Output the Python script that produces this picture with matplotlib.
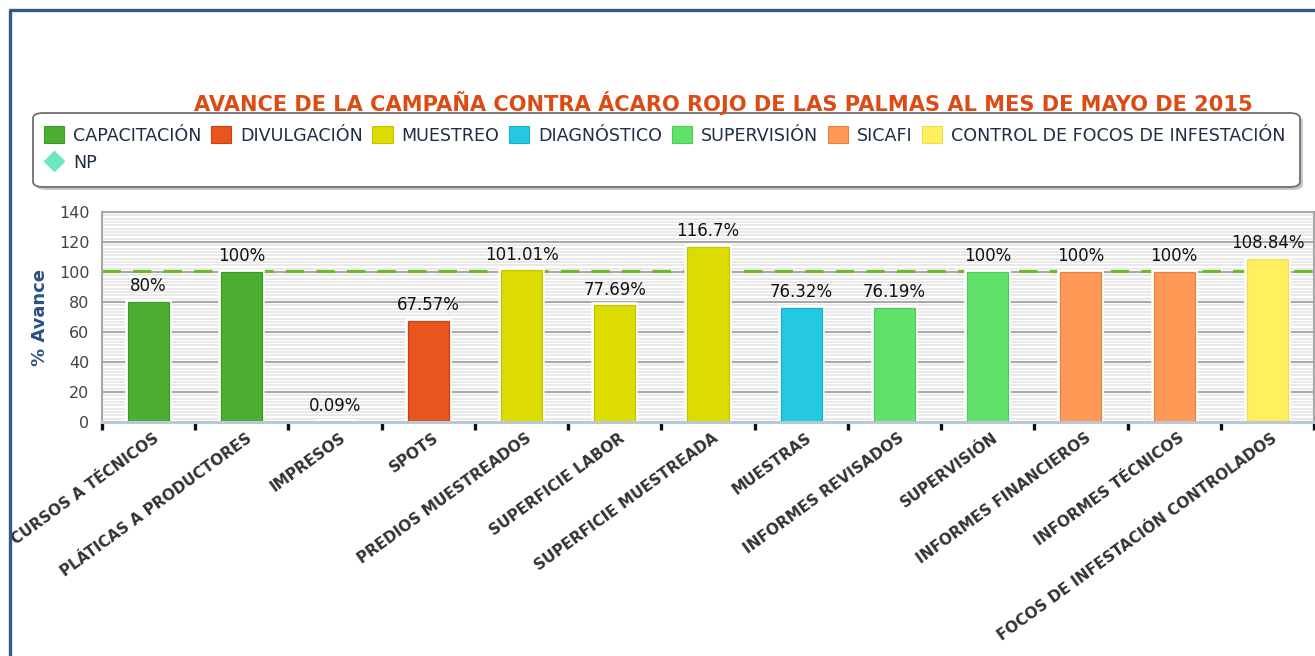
import matplotlib
matplotlib.use("Agg")
import matplotlib.pyplot as plt
import numpy as np
from matplotlib.patches import Patch, FancyBboxPatch
from matplotlib.lines import Line2D
import matplotlib.transforms as mtransforms

# ---------------- data ----------------
categories = ["CURSOS A TÉCNICOS", "PLÁTICAS A PRODUCTORES", "IMPRESOS", "SPOTS",
              "PREDIOS MUESTREADOS", "SUPERFICIE LABOR", "SUPERFICIE MUESTREADA",
              "MUESTRAS", "INFORMES REVISADOS", "SUPERVISIÓN", "INFORMES FINANCIEROS",
              "INFORMES TÉCNICOS", "FOCOS DE INFESTACIÓN CONTROLADOS"]
values = [80, 100, 0.09, 67.57, 101.01, 77.69, 116.7, 76.32, 76.19, 100, 100, 100, 108.84]
series_names = ["CAPACITACIÓN", "DIVULGACIÓN", "MUESTREO", "DIAGNÓSTICO",
                "SUPERVISIÓN", "SICAFI", "CONTROL DE FOCOS DE INFESTACIÓN"]
series_of_category = [0, 0, 1, 1, 2, 2, 2, 3, 4, 4, 5, 5, 6]
np_name = "NP"
np_value = 100
yticks = [0, 20, 40, 60, 80, 100, 120, 140]
title = "AVANCE DE LA CAMPAÑA CONTRA ÁCARO ROJO DE LAS PALMAS AL MES DE MAYO DE 2015"
ylabel = "% Avance"

# ---------------- styles ----------------
series_colors = ["#4daf32", "#e8551e", "#dcdc00", "#24c8e2", "#62e26c", "#ff9955", "#fff060"]
series_edges = ["#3b9a24", "#cc4210", "#c4c400", "#16b0cc", "#4ccc58", "#ec8040", "#eedd50"]
np_color = "#6ae8c2"
np_line_color = "#6cbb26"

W, H = 1315, 656
fig = plt.figure(figsize=(W / 100, H / 100), dpi=100)
fig.patch.set_facecolor("white")

def fx(px):
    return px / W

def fy(py):
    return 1 - py / H

# outer frame (blue lines top and left)
fig.add_artist(Line2D([fx(9), fx(W)], [fy(9.5), fy(9.5)], color="#2f5a8c", lw=2.4,
                      transform=fig.transFigure, solid_capstyle="butt"))
fig.add_artist(Line2D([fx(9.5), fx(9.5)], [fy(9), fy(H)], color="#2f5a8c", lw=2.4,
                      transform=fig.transFigure, solid_capstyle="butt"))

# axes
left, right, top, bottom = 102, 1314, 212, 422
ax = fig.add_axes([fx(left), fy(bottom), fx(right - left), (bottom - top) / H])
n = len(categories)
x = np.arange(n)
ax.set_xlim(-0.5, n - 0.5)
ax.set_ylim(0, 140)

# striped background
stripe_y = [y0 + k * 20 / 9 for y0 in range(0, 140, 20) for k in range(1, 9)]
for yy in stripe_y:
    ax.axhline(yy, color="#e7e7e7", lw=1.3, zorder=0.5)
for yy in yticks[1:]:
    ax.axhline(yy, color="#a8a8a8", lw=1.5, zorder=0.8)

# NP reference line
ax.axhline(np_value + 0.6, color=np_line_color, lw=2.2, dashes=(6, 4), zorder=1)

# bars
colors = [series_colors[s] for s in series_of_category]
edges = [series_edges[s] for s in series_of_category]
bw = 0.44
ax.bar(x, values, width=bw, color="white", edgecolor="white", linewidth=4.0, zorder=2)
ax.bar(x, values, width=bw, color=colors, edgecolor=edges, linewidth=0.9, zorder=3)

for xi, v in zip(x, values):
    ax.annotate(f"{v:g}%", (xi, v), xytext=(0, 5), textcoords="offset points",
                ha="center", va="bottom", fontsize=12, color="#111111", zorder=5)

# spines
for s in ["top", "left", "right"]:
    ax.spines[s].set_color("#a8a8a8")
    ax.spines[s].set_linewidth(1.5)
ax.spines["bottom"].set_color("#b8c8d8")
ax.spines["bottom"].set_linewidth(2.2)
ax.spines["bottom"].set_zorder(4)

ax.set_yticks(yticks)
ax.set_yticklabels([str(t) for t in yticks])
ax.tick_params(axis="y", length=0, pad=9, labelsize=11.5, labelcolor="#444444")

ax.set_xticks(x)
ax.set_xticklabels(categories, rotation=36, ha="right", rotation_mode="anchor",
                   fontsize=11, fontweight="bold", color="#333333")
ax.tick_params(axis="x", which="major", length=0, pad=6)
ax.set_xticks(np.arange(-0.5, n, 1.0), minor=True)
ax.tick_params(axis="x", which="minor", length=6, width=2.4, color="#111111", direction="out")
offset = mtransforms.ScaledTranslation(4 / 100, 0, fig.dpi_scale_trans)
for lab in ax.get_xticklabels():
    lab.set_transform(lab.get_transform() + offset)

ax.set_ylabel(ylabel, fontsize=13, fontweight="bold", color="#2b5280")
ax.yaxis.set_label_coords((49 - left) / (right - left), 0.5)

# title
fig.text(fx(723), fy(103), title, ha="center", va="center", fontsize=15.1,
         fontweight="bold", color="#dd4b14")

# legend box
shadow = FancyBboxPatch((fx(36), fy(190)), fx(1300 - 33), (187 - 113) / H,
                        boxstyle="round,pad=0,rounding_size=0.008",
                        transform=fig.transFigure, facecolor="#c8c8c8", edgecolor="none", zorder=1)
box = FancyBboxPatch((fx(33), fy(187)), fx(1300 - 33), (187 - 113) / H,
                     boxstyle="round,pad=0,rounding_size=0.008",
                     transform=fig.transFigure, facecolor="white", edgecolor="#707070",
                     lw=1.3, zorder=2)
fig.add_artist(shadow)
fig.add_artist(box)

handles = [Patch(facecolor=c, edgecolor=e, linewidth=0.8) for c, e in zip(series_colors, series_edges)]
np_handle = Line2D([], [], marker="D", color=np_color, markersize=10, linestyle="none")
order_h = [handles[0], np_handle] + handles[1:]
order_l = [series_names[0], np_name] + series_names[1:]
leg = fig.legend(order_h, order_l, loc="upper left", bbox_to_anchor=(fx(44), fy(126)),
                 ncol=7, frameon=False, handlelength=1.15, handleheight=1.15,
                 handletextpad=0.5, columnspacing=0.56, labelspacing=0.5,
                 borderaxespad=0, borderpad=0,
                 prop={"family": "DejaVu Sans", "size": 12.6})
for t in leg.get_texts():
    t.set_color("#1f2d45")
leg.set_zorder(3)

fig.savefig("out.png", dpi=100, facecolor="white")
